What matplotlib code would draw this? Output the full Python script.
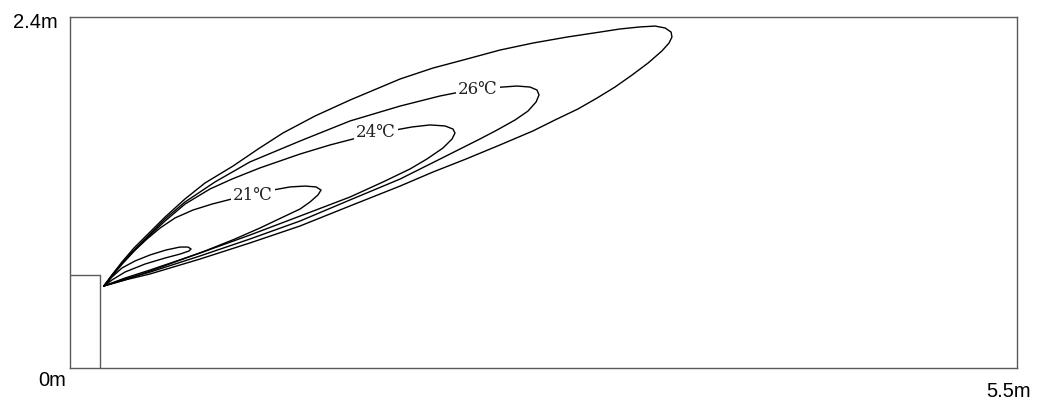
"""
plot.py - temperature contours in front of a wall unit (side section).
"""

import matplotlib
matplotlib.use("Agg")
import matplotlib.pyplot as plt

ROOM_W = 5.5   # m
ROOM_H = 2.4   # m

# wall unit outline (width, height) in m
UNIT_W = 0.174
UNIT_H = 0.636

# traced contour loops, metres (x along floor, y height)
loop_a_x = [0.197, 0.244, 0.302, 0.378, 0.465, 0.558, 0.639, 0.685, 0.703, 0.691,
            0.639, 0.552, 0.436, 0.319, 0.244, 0.197]
loop_a_y = [0.561, 0.622, 0.684, 0.732, 0.773, 0.807, 0.827, 0.827, 0.814, 0.800,
            0.779, 0.752, 0.711, 0.656, 0.602, 0.561]

loop_21_x = [0.197, 0.244, 0.302, 0.372, 0.447, 0.523, 0.610, 0.714, 0.825, 0.941,
             1.074, 1.179, 1.278, 1.365, 1.429, 1.458, 1.440, 1.394, 1.336, 1.237,
             1.103, 0.958, 0.784, 0.610, 0.465, 0.319, 0.197]
loop_21_y = [0.561, 0.629, 0.711, 0.800, 0.882, 0.957, 1.026, 1.080, 1.121, 1.156,
             1.190, 1.217, 1.238, 1.244, 1.238, 1.217, 1.183, 1.135, 1.087, 1.032,
             0.957, 0.882, 0.800, 0.725, 0.663, 0.602, 0.561]

loop_24_x = [0.197, 0.244, 0.302, 0.372, 0.453, 0.552, 0.668, 0.813, 0.941, 1.103,
             1.336, 1.510, 1.667, 1.888, 1.986, 2.091, 2.178, 2.224, 2.236, 2.219,
             2.166, 2.073, 1.975, 1.818, 1.626, 1.336, 1.045, 0.755, 0.465, 0.319,
             0.197]
loop_24_y = [0.561, 0.629, 0.711, 0.800, 0.896, 1.005, 1.121, 1.224, 1.292, 1.368,
             1.463, 1.525, 1.573, 1.627, 1.648, 1.662, 1.655, 1.634, 1.607, 1.566,
             1.504, 1.429, 1.361, 1.272, 1.169, 1.039, 0.909, 0.786, 0.670, 0.615,
             0.561]

loop_26_x = [0.197, 0.244, 0.302, 0.372, 0.453, 0.552, 0.668, 0.842, 1.045, 1.336,
             1.626, 1.917, 2.149, 2.265, 2.439, 2.596, 2.672, 2.712, 2.724, 2.707,
             2.660, 2.585, 2.480, 2.381, 2.207, 1.917, 1.626, 1.336, 1.045, 0.755,
             0.465, 0.319, 0.197]
loop_26_y = [0.561, 0.636, 0.718, 0.807, 0.903, 1.019, 1.135, 1.272, 1.409, 1.552,
             1.689, 1.791, 1.860, 1.887, 1.915, 1.928, 1.921, 1.901, 1.867, 1.819,
             1.757, 1.696, 1.627, 1.566, 1.463, 1.292, 1.149, 1.005, 0.882, 0.766,
             0.656, 0.609, 0.561]

loop_big_x = [0.197, 0.244, 0.302, 0.372, 0.453, 0.552, 0.668, 0.784, 0.947, 1.092,
              1.237, 1.423, 1.626, 1.917, 2.108, 2.306, 2.497, 2.689, 2.887, 3.078,
              3.194, 3.310, 3.398, 3.456, 3.491, 3.496, 3.479, 3.438, 3.357, 3.264,
              3.165, 3.061, 2.950, 2.817, 2.689, 2.497, 2.300, 2.108, 1.917, 1.626,
              1.336, 1.045, 0.755, 0.465, 0.319, 0.197]
loop_big_y = [0.561, 0.636, 0.725, 0.821, 0.916, 1.032, 1.156, 1.265, 1.381, 1.497,
              1.607, 1.723, 1.832, 1.976, 2.051, 2.113, 2.174, 2.222, 2.263, 2.297,
              2.318, 2.332, 2.338, 2.325, 2.297, 2.263, 2.222, 2.168, 2.085, 2.003,
              1.921, 1.846, 1.771, 1.696, 1.621, 1.525, 1.429, 1.340, 1.244, 1.108,
              0.971, 0.855, 0.745, 0.643, 0.602, 0.561]

# contour labels: text, x, y
label_text = ["21℃", "24℃", "26℃"]
label_x = [1.063, 1.777, 2.370]
label_y = [1.183, 1.620, 1.908]


def main():
    fig = plt.figure(figsize=(10.4, 4.02), dpi=100)
    ax = fig.add_axes([70 / 1040, 33 / 402, 947 / 1040, 351 / 402])
    ax.set_xlim(0, ROOM_W)
    ax.set_ylim(0, ROOM_H)
    ax.set_xticks([])
    ax.set_yticks([])
    for sp in ax.spines.values():
        sp.set_color("#5a5a5a")
        sp.set_linewidth(1.0)

    # wall unit
    ax.plot([0, UNIT_W, UNIT_W], [UNIT_H, UNIT_H, 0], color="#5a5a5a", lw=1.0)

    loops = [(loop_a_x, loop_a_y), (loop_21_x, loop_21_y), (loop_24_x, loop_24_y),
             (loop_26_x, loop_26_y), (loop_big_x, loop_big_y)]
    for xs, ys in loops:
        ax.plot(xs, ys, color="black", lw=1.0, solid_joinstyle="round")

    for txt, x, y in zip(label_text, label_x, label_y):
        ax.text(x, y, txt, ha="center", va="center", fontsize=12,
                family=["DejaVu Serif", "DejaVu Sans"], color="#222222",
                bbox=dict(facecolor="white", edgecolor="none", pad=1.5))

    fig.text(35 / 1040, 1 - 28 / 402, "2.4m", ha="center", va="baseline",
             fontsize=14.5, family="Liberation Sans")
    fig.text(52 / 1040, 16 / 402, "0m", ha="center", va="baseline",
             fontsize=14.5, family="Liberation Sans")
    fig.text(1009 / 1040, 5 / 402, "5.5m", ha="center", va="baseline",
             fontsize=14.5, family="Liberation Sans")

    fig.savefig("out.png", dpi=100)
    plt.close(fig)


if __name__ == "__main__":
    main()
